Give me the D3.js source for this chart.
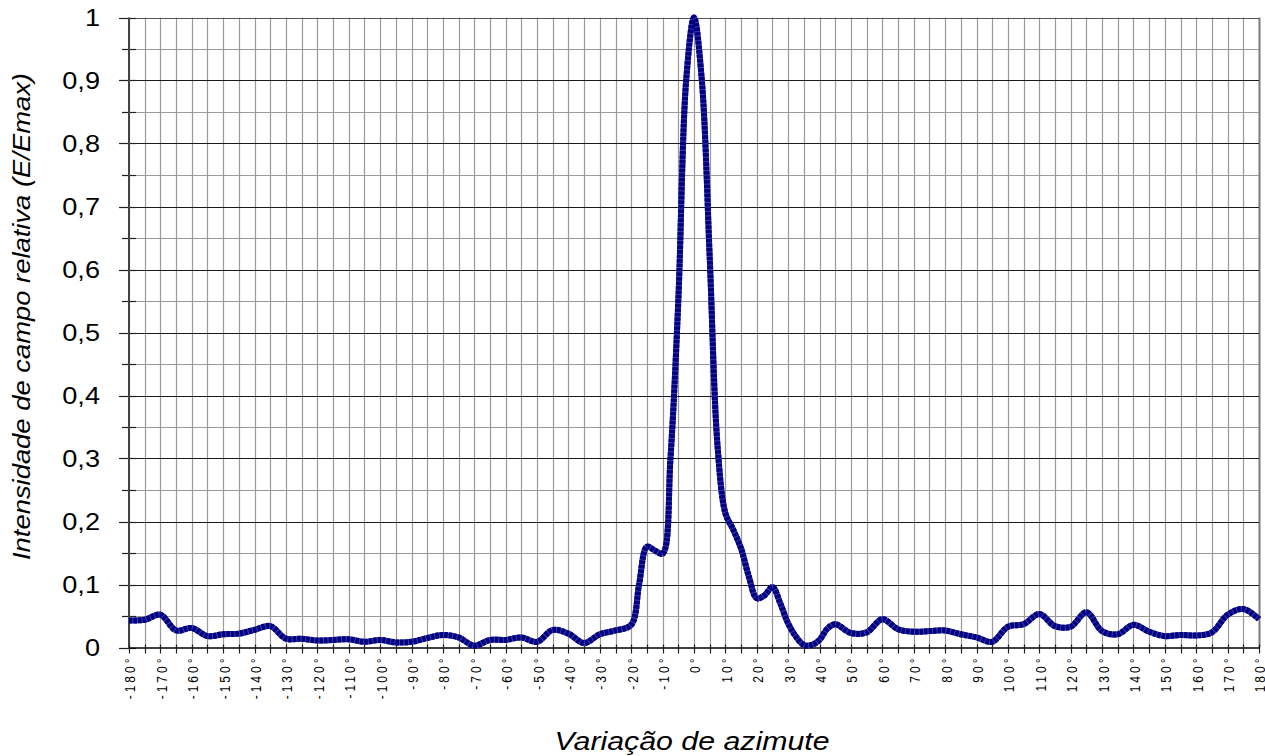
<!DOCTYPE html>
<html>
<head>
<meta charset="utf-8">
<script src="https://cdn.jsdelivr.net/npm/d3@7"></script>
<style>
  html, body { margin: 0; padding: 0; background: #fff; }
  svg { display: block; font-family: Arial, "Liberation Sans", sans-serif; }
</style>
</head>
<body>
<svg id="chart" width="1265" height="756"></svg>
<script>
// ---- data ----
const azimuth = [
  -180, -175, -170, -165, -160, -155, -150, -145, -140, -135, -130, -125, -120, -115, -110, -105,
  -100, -95, -90, -85, -80, -75, -70, -65, -60, -55, -50, -45, -40, -35, -30, -25, -20,
  -17.5, -15, -12.5, -10, -7.5, -5, -2.5, 0, 2.5, 5, 7.5, 10, 12.5, 15, 17.5, 20, 22.5, 25,
  27.5, 30, 32.5, 35, 37.5, 40, 42.5, 45,
  50, 55, 60, 65, 70, 75, 80, 85, 90, 95, 100, 105, 110, 115, 120, 125, 130, 135, 140, 145,
  150, 155, 160, 165, 170, 175, 180
];
const intensity = [
  0.043, 0.044, 0.052, 0.027, 0.031, 0.018, 0.021, 0.022, 0.028, 0.034, 0.014, 0.014, 0.011, 0.012, 0.013, 0.009,
  0.012, 0.008, 0.009, 0.015, 0.020, 0.016, 0.003, 0.012, 0.012, 0.016, 0.009, 0.028, 0.022, 0.007, 0.021, 0.027, 0.036,
  0.100, 0.160, 0.154, 0.149, 0.300, 0.550, 0.900, 1.000, 0.900, 0.620, 0.320, 0.213, 0.187, 0.157, 0.112, 0.078, 0.083, 0.096,
  0.070, 0.038, 0.017, 0.004, 0.004, 0.012, 0.030, 0.037,
  0.023, 0.024, 0.045, 0.029, 0.025, 0.026, 0.027, 0.021, 0.016, 0.009, 0.033, 0.037, 0.053, 0.034, 0.033, 0.056, 0.026, 0.021, 0.036, 0.025,
  0.018, 0.020, 0.019, 0.024, 0.052, 0.061, 0.045
];
const yTickValues = [0, 0.1, 0.2, 0.3, 0.4, 0.5, 0.6, 0.7, 0.8, 0.9, 1];
const yTickLabels = ["0", "0,1", "0,2", "0,3", "0,4", "0,5", "0,6", "0,7", "0,8", "0,9", "1"];
const xLabelValues = d3.range(-180, 181, 10);
const xLabelText = xLabelValues.map(d => d + "°");
const yTitle = "Intensidade de campo relativa (E/Emax)";
const xTitle = "Variação de azimute";

// ---- layout ----
const svg = d3.select("#chart");
const pL = 129, pR = 1259, pT = 17.5, pB = 647.5;

const x = d3.scaleLinear().domain([-180, 180]).range([pL, pR]);
const y = d3.scaleLinear().domain([0, 1]).range([pB, pT]);

// vertical gridlines every 5 degrees
const xMinor = d3.range(-180, 181, 5);
svg.append("g").selectAll("line").data(xMinor).join("line")
  .attr("x1", d => Math.round(x(d)) + 0.5).attr("x2", d => Math.round(x(d)) + 0.5)
  .attr("y1", pT).attr("y2", pB)
  .attr("stroke", d => d === 180 ? "#7a7a7a" : "#9a9a9a").attr("stroke-width", d => d === 180 ? 2 : 1.2);

// horizontal gridlines: minor (0.05) and major (0.1)
const yMinor = d3.range(0.05, 1, 0.1);
svg.append("g").selectAll("line").data(yMinor).join("line")
  .attr("x1", pL).attr("x2", pR)
  .attr("y1", d => Math.round(y(d)) + 0.5).attr("y2", d => Math.round(y(d)) + 0.5)
  .attr("stroke", "#9a9a9a").attr("stroke-width", 1.2);
svg.append("g").selectAll("line").data(yTickValues.slice(1)).join("line")
  .attr("x1", pL).attr("x2", pR)
  .attr("y1", d => Math.round(y(d)) + 0.5).attr("y2", d => Math.round(y(d)) + 0.5)
  .attr("stroke", d => d === 1 ? "#555" : "#1a1a1a").attr("stroke-width", 1.2);

// y axis (custom ticks crossing axis)
const yAxis = svg.append("g");
yAxis.selectAll("line.maj").data(yTickValues).join("line").attr("class", "maj")
  .attr("x1", pL - 10).attr("x2", pL + 7)
  .attr("y1", d => Math.round(y(d)) + 0.5).attr("y2", d => Math.round(y(d)) + 0.5)
  .attr("stroke", "#222").attr("stroke-width", 1.2);
yAxis.selectAll("line.min").data(yMinor).join("line").attr("class", "min")
  .attr("x1", pL - 7).attr("x2", pL + 7)
  .attr("y1", d => Math.round(y(d)) + 0.5).attr("y2", d => Math.round(y(d)) + 0.5)
  .attr("stroke", "#222").attr("stroke-width", 1.2);
yAxis.append("line").attr("x1", pL).attr("x2", pL).attr("y1", pT).attr("y2", pB + 1)
  .attr("stroke", "#444").attr("stroke-width", 2);
yAxis.selectAll("text").data(yTickValues).join("text")
  .attr("transform", d => `translate(100,${y(d)}) scale(1.18,1)`)
  .attr("dy", "0.36em")
  .attr("text-anchor", "end").attr("font-size", 23).attr("fill", "#000")
  .text((d, i) => yTickLabels[i]);

// x axis
const xAxis = svg.append("g");
xAxis.append("line").attr("x1", pL).attr("x2", pR).attr("y1", pB + 0.5).attr("y2", pB + 0.5)
  .attr("stroke", "#000").attr("stroke-width", 1.3);
xAxis.selectAll("line.t").data(xMinor).join("line").attr("class", "t")
  .attr("x1", d => Math.round(x(d)) + 0.5).attr("x2", d => Math.round(x(d)) + 0.5)
  .attr("y1", pB - 3).attr("y2", pB + 6)
  .attr("stroke", "#222").attr("stroke-width", 1.2);
xAxis.selectAll("text").data(xLabelValues).join("text")
  .attr("transform", d => `translate(${x(d) + 1.5},${pB + 8}) rotate(-90) scale(1,1.15)`)
  .attr("dy", "0.36em").attr("text-anchor", "end")
  .attr("font-size", 12).attr("letter-spacing", "3px").attr("fill", "#000")
  .text((d, i) => xLabelText[i]);

// series line
const pts = azimuth.map((a, i) => [a, intensity[i]]);
const line = d3.line().x(d => x(d[0])).y(d => y(d[1])).curve(d3.curveCatmullRom.alpha(0.5));
svg.append("path").datum(pts).attr("d", line)
  .attr("fill", "none").attr("stroke", "#3a3aa8").attr("stroke-width", 6)
  .attr("stroke-linejoin", "round");
svg.append("path").datum(pts).attr("d", line)
  .attr("fill", "none").attr("stroke", "#000080").attr("stroke-width", 6)
  .attr("stroke-dasharray", "3.5,1").attr("stroke-linejoin", "round");

// titles
svg.append("text")
  .attr("transform", `translate(30,316.5) rotate(-90)`)
  .attr("text-anchor", "middle").attr("font-size", 24.5).attr("font-style", "italic")
  .attr("textLength", 487).attr("lengthAdjust", "spacingAndGlyphs")
  .text(yTitle);
svg.append("text")
  .attr("x", 692).attr("y", 750)
  .attr("text-anchor", "middle").attr("font-size", 25.5).attr("font-style", "italic")
  .attr("textLength", 275).attr("lengthAdjust", "spacingAndGlyphs")
  .text(xTitle);
</script>
</body>
</html>
